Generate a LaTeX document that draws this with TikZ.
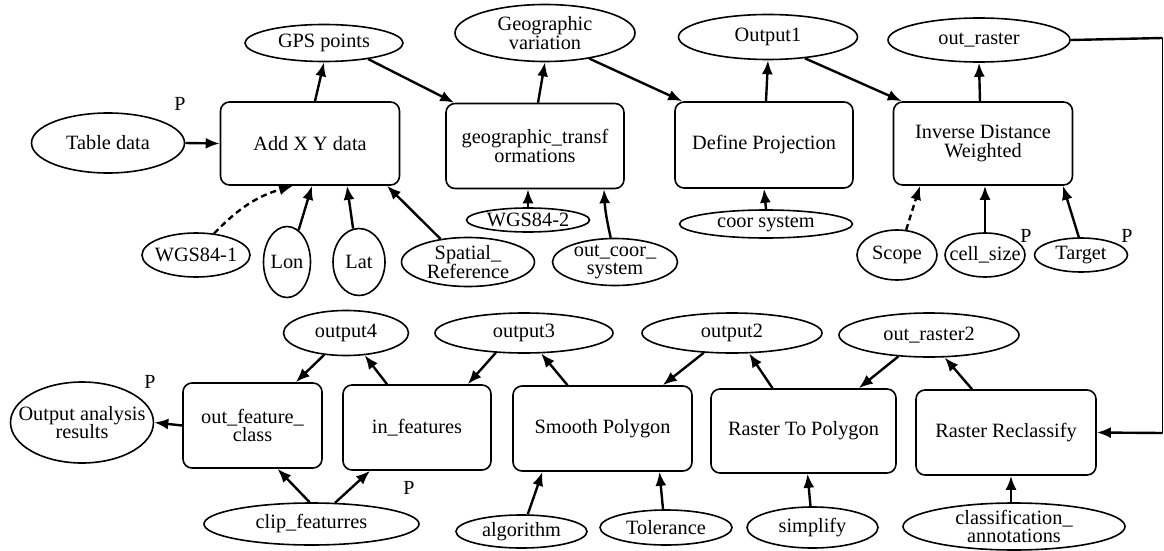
\documentclass[tikz,border=0pt]{standalone}
\usepackage{fontspec}
\setmainfont{Liberation Serif}
\newfontfamily\diagfont{Liberation Serif}
\usetikzlibrary{arrows.meta,shapes.geometric}
\begin{document}
\begin{tikzpicture}[x=1pt,y=-1pt,
  every node/.style={font=\diagfont\fontsize{20.3}{18.5}\selectfont, inner sep=0pt, align=center},
  ell/.style={draw, ellipse, line width=1.6pt, label={center:#1}},
  box/.style={draw, rectangle, rounded corners=9pt, line width=1.6pt},
  plab/.style={font=\diagfont\fontsize{20}{20}\selectfont},
  conn/.style={line width=2.4pt, -{Latex[length=14pt,width=11pt]}},
  dconn/.style={conn, dash pattern=on 6pt off 4pt}
]
\useasboundingbox (0,0) rectangle (1164,551);
% ---------- top row ----------
\node[ell={Table data}, minimum width=153pt, minimum height=60pt] (tabledata) at (108,143) {};
\node[box, minimum width=179pt, minimum height=83pt] (addxy) at (310,143.5) {Add X Y data};
\node[ell={GPS points}, minimum width=158pt, minimum height=37pt] (gps) at (324,43) {};
\node[ell={WGS84-1}, minimum width=108pt, minimum height=44pt] (wgs1) at (196,255) {};
\node[ell={Lon}, minimum width=47pt, minimum height=71pt] (lon) at (287,262) {};
\node[ell={Lat}, minimum width=52pt, minimum height=67pt] (lat) at (359,262) {};
\node[ell={Spatial\_\\Reference}, minimum width=133pt, minimum height=49pt] (spatial) at (468,262) {};
\node[box, minimum width=178pt, minimum height=85pt] (geotrans) at (535,146) {geographic\_transf\\ormations};
\node[ell={Geographic\\variation}, minimum width=180pt, minimum height=57pt] (geovar) at (545,33) {};
\node[ell={WGS84-2}, minimum width=123pt, minimum height=24pt] (wgs2) at (528,220) {};
\node[ell={out\_coor\_\\system}, minimum width=125pt, minimum height=47pt] (outcoor) at (615,262) {};
\node[box, minimum width=178pt, minimum height=86pt] (defproj) at (764,145) {Define Projection};
\node[ell={Output1}, minimum width=179pt, minimum height=45pt] (output1) at (768,37) {};
\node[ell={coor system}, minimum width=173pt, minimum height=28pt] (coorsys) at (766,224) {};
\node[box, minimum width=179pt, minimum height=83pt] (idw) at (983,143.5) {Inverse Distance\\Weighted};
\node[ell={out\_raster}, minimum width=182pt, minimum height=44pt] (outraster) at (979,40) {};
\node[ell={Scope}, minimum width=80pt, minimum height=50pt] (scope) at (897,255) {};
\node[ell={cell\_size}, minimum width=80pt, minimum height=44pt] (cellsize) at (985,255) {};
\node[ell={Target}, minimum width=93pt, minimum height=34pt] (target) at (1081,255) {};
% ---------- bottom row ----------
\node[ell={Output analysis\\results}, minimum width=143pt, minimum height=81pt] (oar) at (82,422.5) {};
\node[box, minimum width=139pt, minimum height=85pt] (ofc) at (252.5,425.5) {out\_feature\_\\class};
\node[box, minimum width=148pt, minimum height=85pt] (infeat) at (417,427.5) {in\_features};
\node[box, minimum width=179pt, minimum height=85pt] (smooth) at (602.5,428.5) {Smooth Polygon};
\node[box, minimum width=185pt, minimum height=84pt] (rtp) at (803.5,431) {Raster To Polygon};
\node[box, minimum width=180pt, minimum height=85pt] (rrecl) at (1006,432.5) {Raster Reclassify};
\node[ell={output4}, minimum width=125pt, minimum height=45pt] (output4) at (346,333) {};
\node[ell={output3}, minimum width=178pt, minimum height=40pt] (output3) at (524,333) {};
\node[ell={output2}, minimum width=180pt, minimum height=40pt] (output2) at (732,333) {};
\node[ell={out\_raster2}, minimum width=180pt, minimum height=44pt] (outraster2) at (929,335) {};
\node[ell={clip\_featurres}, minimum width=215pt, minimum height=42pt] (clip) at (311.5,524) {};
\node[ell={algorithm}, minimum width=131pt, minimum height=33pt] (alg) at (521.5,531.5) {};
\node[ell={Tolerance}, minimum width=132pt, minimum height=35pt] (tol) at (666,527.5) {};
\node[ell={simplify}, minimum width=131pt, minimum height=41pt] (simp) at (812.5,527.5) {};
\node[ell={classification\_\\annotations}, minimum width=222pt, minimum height=47pt] (classif) at (1014,526.5) {};
% ---------- P labels ----------
\node[plab] (p1) at (180,104) {P};
\node[plab] (p2) at (150,382) {P};
\node[plab] (p3) at (409,488) {P};
\node[plab] (p4) at (1026,236) {P};
\node[plab] (p5) at (1127,236) {P};
% ---------- connectors, top ----------
\draw[conn] (tabledata.east) -- (addxy.west);
\draw[conn] ([xshift=5pt]addxy.north) -- (gps.south);
\draw[conn] (gps.-20) -- ([xshift=9pt]geotrans.north west);
\draw[conn] ([xshift=3pt]geotrans.north) -- (geovar.south);
\draw[conn] (geovar.-30) -- ([xshift=8pt]defproj.north west);
\draw[conn] ([xshift=2pt]defproj.north) -- (output1.south);
\draw[conn] (output1.-30) -- ([xshift=9pt]idw.north west);
\draw[conn] ([xshift=-3pt]idw.north) -- (outraster.south);
\draw[dconn] (wgs1.50) to[bend left=15] ([xshift=-17pt]addxy.south);
\draw[conn] (lon.70) -- ([xshift=2pt]addxy.south);
\draw[conn] (lat.100) -- ([xshift=37pt]addxy.south);
\draw[conn] (spatial.140) -- ([xshift=77pt]addxy.south);
\draw[conn] (wgs2.north) -- ([xshift=-7pt]geotrans.south);
\draw[conn] (outcoor.100) to[bend left=5] ([xshift=69pt]geotrans.south);
\draw[conn] (coorsys.north) -- (defproj.south);
\draw[dconn] (scope.70) -- ([xshift=-63pt]idw.south);
\draw[conn] (cellsize.north) -- ([xshift=2pt]idw.south);
\draw[conn] (target.97) -- ([xshift=80pt]idw.south);
% long connector out_raster -> Raster Reclassify
\coordinate (c1) at (1162.5,38);
\coordinate (c2) at (1162.5,433);
\draw[line width=2.4pt] (outraster.east) -- (c1);
\draw[line width=1.2pt] (c1) -- (c2);
\draw[conn] (c2) -- (rrecl.east);
% ---------- connectors, bottom ----------
\draw[conn] ([xshift=-34pt]rrecl.north) -- (outraster2.-55);
\draw[conn] (outraster2.-145) -- ([xshift=-38pt]rtp.north east);
\draw[conn] ([xshift=-31pt]rtp.north) -- (output2.-50);
\draw[conn] (output2.-145) -- ([xshift=-30pt]smooth.north east);
\draw[conn] ([xshift=-35pt]smooth.north) -- (output3.-50);
\draw[conn] (output3.-145) -- ([xshift=-24pt]infeat.north east);
\draw[conn] ([xshift=-30pt]infeat.north) -- (output4.-50);
\draw[conn] (output4.-135) -- ([xshift=-27pt]ofc.north east);
\draw[conn] (ofc.west) -- (oar.east);
\draw[conn] (clip.95) -- ([xshift=25pt]ofc.south);
\draw[conn] (clip.42) -- ([xshift=-47pt]infeat.south);
\draw[conn] (alg.70) -- ([xshift=-60pt]smooth.south);
\draw[conn] ([xshift=-3pt]tol.north) -- ([xshift=57pt]smooth.south);
\draw[conn] ([xshift=-2pt]simp.north) -- ([xshift=4pt]rtp.south);
\draw[conn] ([xshift=-3pt]classif.north) -- ([xshift=5pt]rrecl.south);
\end{tikzpicture}
\end{document}
